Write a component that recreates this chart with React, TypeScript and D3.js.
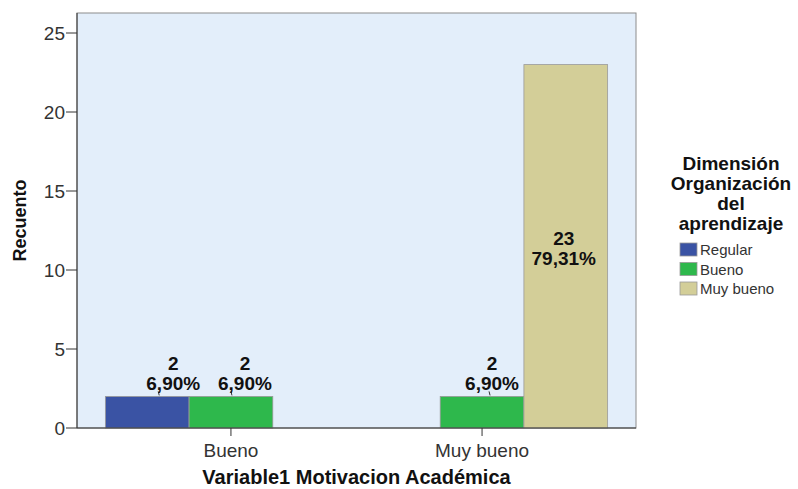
import { useEffect, useRef } from "react";
import * as d3 from "d3";

// datos
const categories = ["Bueno", "Muy bueno"];
const seriesNames = ["Regular", "Bueno", "Muy bueno"];
const seriesColors = ["#3A53A4", "#2EB84C", "#D3CE98"];
// recuento por categoria (fila) y serie (columna); null = sin barra
const counts: (number | null)[][] = [
  [2, 2, null],
  [null, 2, 23],
];
const percents: (string | null)[][] = [
  ["6,90%", "6,90%", null],
  [null, "6,90%", "79,31%"],
];
const yTicks = [0, 5, 10, 15, 20, 25];
const legendTitle = ["Dimensión", "Organización", "del", "aprendizaje"];

const App = () => {
  const svgRef = useRef<SVGSVGElement | null>(null);

  useEffect(() => {
    const svg = d3.select(svgRef.current);
    svg.selectAll("*").remove();

    const W = 798, H = 489;
    const plot = { left: 77, right: 636, top: 13, bottom: 428 };
    const font = "Liberation Sans, Arial, sans-serif";

    svg.attr("width", W).attr("height", H);

    const y = d3.scaleLinear().domain([0, 25]).range([plot.bottom, 33]);
    const x0 = d3.scaleBand().domain(categories)
      .range([plot.left, plot.right]).paddingInner(0).paddingOuter(0.113);
    const x1 = d3.scaleBand().domain(seriesNames).range([0, x0.bandwidth()]);

    // fondo del area
    svg.append("rect")
      .attr("x", plot.left).attr("y", plot.top)
      .attr("width", plot.right - plot.left).attr("height", plot.bottom - plot.top)
      .attr("fill", "#E3EEFA").attr("stroke", "#8C8C8C").attr("stroke-width", 1);

    // barras
    categories.forEach((c, i) => {
      seriesNames.forEach((s, j) => {
        const v = counts[i][j];
        if (v == null) return;
        const bx = (x0(c) ?? 0) + (x1(s) ?? 0);
        svg.append("rect")
          .attr("x", bx).attr("y", y(v))
          .attr("width", x1.bandwidth()).attr("height", plot.bottom - y(v))
          .attr("fill", seriesColors[j])
          .attr("stroke", "#9A9A9A").attr("stroke-width", 0.8);
      });
    });

    // desplazamientos de etiqueta (texto, guia) como en SPSS
    const labelShift: Record<string, [number, number]> = {
      "0-0": [26, 12], "0-1": [14, 1], "1-1": [10, 8],
    };

    // etiquetas de barras
    categories.forEach((c, i) => {
      seriesNames.forEach((s, j) => {
        const v = counts[i][j];
        if (v == null) return;
        const cx = (x0(c) ?? 0) + (x1(s) ?? 0) + x1.bandwidth() / 2;
        const big = v > 10;
        const [dx, lx] = labelShift[`${i}-${j}`] ?? [-2, 0];
        const baseY = big ? (y(v) + plot.bottom) / 2 - 1 : y(v) - 26;
        if (!big) {
          svg.append("line")
            .attr("x1", cx + lx).attr("x2", cx + lx - 1)
            .attr("y1", y(v) - 1).attr("y2", y(v) - 5)
            .attr("stroke", "#333").attr("stroke-width", 1);
        }
        [String(v), percents[i][j] ?? ""].forEach((txt, k) => {
          svg.append("text")
            .attr("x", cx + dx).attr("y", baseY + k * 20)
            .attr("text-anchor", "middle")
            .style("font-family", font).style("font-size", "19px")
            .style("font-weight", "bold").attr("fill", "#111")
            .text(txt);
        });
      });
    });

    // eje y
    const gy = svg.append("g").attr("transform", `translate(${plot.left},0)`);
    gy.append("line").attr("y1", plot.top).attr("y2", plot.bottom).attr("stroke", "#333");
    yTicks.forEach((t) => {
      gy.append("line").attr("x1", -11).attr("x2", 0)
        .attr("y1", y(t)).attr("y2", y(t)).attr("stroke", "#333");
      gy.append("text").attr("x", -12).attr("y", y(t) + 7)
        .attr("text-anchor", "end")
        .style("font-family", font).style("font-size", "19px").attr("fill", "#333")
        .text(t);
    });

    // eje x
    const gx = svg.append("g");
    gx.append("line").attr("x1", plot.left).attr("x2", plot.right)
      .attr("y1", plot.bottom).attr("y2", plot.bottom).attr("stroke", "#333");
    categories.forEach((c) => {
      const cx = (x0(c) ?? 0) + x0.bandwidth() / 2;
      gx.append("line").attr("x1", cx).attr("x2", cx)
        .attr("y1", plot.bottom).attr("y2", plot.bottom + 8).attr("stroke", "#333");
      gx.append("text").attr("x", cx).attr("y", plot.bottom + 29)
        .attr("text-anchor", "middle")
        .style("font-family", font).style("font-size", "19px").attr("fill", "#333")
        .text(c);
    });

    // titulos de ejes
    svg.append("text")
      .attr("transform", `translate(26,${(plot.top + plot.bottom) / 2}) rotate(-90)`)
      .attr("text-anchor", "middle")
      .style("font-family", font).style("font-size", "18px").style("font-weight", "bold")
      .attr("fill", "#111").text("Recuento");
    svg.append("text")
      .attr("x", (plot.left + plot.right) / 2).attr("y", 484)
      .attr("text-anchor", "middle")
      .style("font-family", font).style("font-size", "20px").style("font-weight", "bold")
      .attr("fill", "#111").text("Variable1 Motivacion Académica");

    // leyenda
    const lg = svg.append("g");
    legendTitle.forEach((l, i) => {
      lg.append("text").attr("x", 731).attr("y", 170 + i * 20)
        .attr("text-anchor", "middle")
        .style("font-family", font).style("font-size", "19px").style("font-weight", "bold")
        .attr("fill", "#111").text(l);
    });
    seriesNames.forEach((s, i) => {
      const ly = 243 + i * 19.5;
      lg.append("rect").attr("x", 680).attr("y", ly)
        .attr("width", 17).attr("height", 13)
        .attr("fill", seriesColors[i]).attr("stroke", "#9A9A9A").attr("stroke-width", 0.8);
      lg.append("text").attr("x", 700).attr("y", ly + 12)
        .style("font-family", font).style("font-size", "15px").attr("fill", "#333")
        .text(s);
    });
  }, []);

  return <svg ref={svgRef} style={{ position: "absolute", left: 0, top: 0 }} />;
};

export default App;
